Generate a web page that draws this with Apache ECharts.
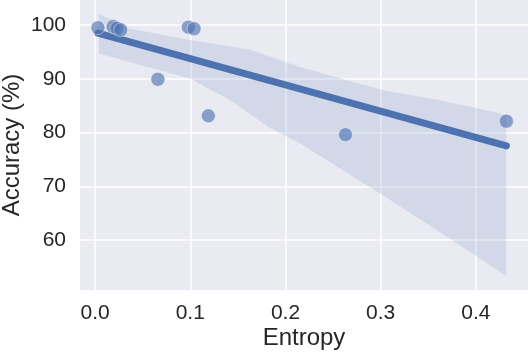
<!DOCTYPE html>
<html>
<head>
<meta charset="utf-8">
<script src="https://cdn.jsdelivr.net/npm/echarts@6/dist/echarts.min.js"></script>
<style>
    html, body { margin: 0; padding: 0; background: #fff; }
    #chart { width: 528px; height: 352px; }
</style>
</head>
<body>
<div id="chart"></div>
<script>
// scatter points (entropy, accuracy %)
var entropy = [0.003, 0.019, 0.023, 0.027, 0.066, 0.098, 0.104, 0.119, 0.263, 0.432];
var accuracy = [99.5, 99.7, 99.4, 99.1, 89.9, 99.6, 99.3, 83.1, 79.6, 82.1];

// fitted line end points
var fitX = [0.003, 0.432];
var fitY = [98.5, 77.5];

// confidence band edges
var upperX = [0.004, 0.037, 0.100, 0.163, 0.215, 0.302, 0.362, 0.432];
var upperY = [102.1, 99.3, 97.2, 95.4, 92.2, 87.9, 86.0, 83.3];
var lowerX = [0.004, 0.100, 0.142, 0.184, 0.215, 0.299, 0.362, 0.432];
var lowerY = [94.7, 90.0, 86.0, 80.8, 78.0, 68.7, 61.5, 53.3];

var xTicks = [0, 0.1, 0.2, 0.3, 0.4];
var yTicks = [60, 70, 80, 90, 100];

var blue = '#4C72B0';
var textColor = '#262626';
var font = 'Liberation Sans, Arial, sans-serif';

function zip(a, b) {
    return a.map(function (v, i) { return [v, b[i]]; });
}

var chart = echarts.init(document.getElementById('chart'), null, { renderer: 'canvas' });

var option = {
    animation: false,
    textStyle: { fontFamily: font },
    grid: {
        left: 80,
        right: 0,
        top: 0,
        bottom: 62,
        outerBoundsMode: 'none',
        containLabel: false,
        show: true,
        backgroundColor: '#EAEAF2',
        borderWidth: 0
    },
    xAxis: {
        type: 'value',
        min: -0.0158,
        max: 0.4547,
        name: 'Entropy',
        nameLocation: 'middle',
        nameGap: 36,
        nameMoveOverlap: false,
        nameTextStyle: { fontSize: 24, color: textColor, fontFamily: font },
        axisLine: { show: false },
        axisTick: { show: false, customValues: xTicks },
        axisLabel: {
            customValues: xTicks,
            fontSize: 21,
            color: textColor,
            margin: 13,
            fontFamily: font,
            formatter: function (v) { return v.toFixed(1); }
        },
        splitLine: { show: true, lineStyle: { color: '#fff', width: 1.5 } }
    },
    yAxis: {
        type: 'value',
        min: 50.7,
        max: 104.65,
        name: 'Accuracy (%)',
        nameLocation: 'middle',
        nameRotate: 90,
        nameGap: 56,
        nameMoveOverlap: false,
        nameTextStyle: { fontSize: 24, color: textColor, fontFamily: font },
        axisLine: { show: false },
        axisTick: { show: false, customValues: yTicks },
        axisLabel: {
            customValues: yTicks,
            fontSize: 21,
            color: textColor,
            margin: 14,
            fontFamily: font
        },
        splitLine: { show: true, lineStyle: { color: '#fff', width: 1.5 } }
    },
    series: [
        {
            name: 'band',
            type: 'custom',
            clip: true,
            z: 1,
            data: [0],
            renderItem: function (params, api) {
                var pts = [];
                upperX.forEach(function (x, i) { pts.push(api.coord([x, upperY[i]])); });
                for (var i = lowerX.length - 1; i >= 0; i--) {
                    pts.push(api.coord([lowerX[i], lowerY[i]]));
                }
                return {
                    type: 'polygon',
                    shape: { points: pts },
                    style: { fill: 'rgba(76,114,176,0.15)', stroke: 'none' }
                };
            }
        },
        {
            name: 'fit',
            type: 'line',
            z: 3,
            data: zip(fitX, fitY),
            showSymbol: false,
            lineStyle: { color: blue, width: 7, cap: 'round' }
        },
        {
            name: 'points',
            type: 'scatter',
            z: 4,
            data: zip(entropy, accuracy),
            symbolSize: 14,
            itemStyle: {
                color: 'rgba(76,114,176,0.8)',
                borderColor: 'rgba(255,255,255,0.55)',
                borderWidth: 1
            }
        }
    ]
};

chart.setOption(option);
</script>
</body>
</html>
